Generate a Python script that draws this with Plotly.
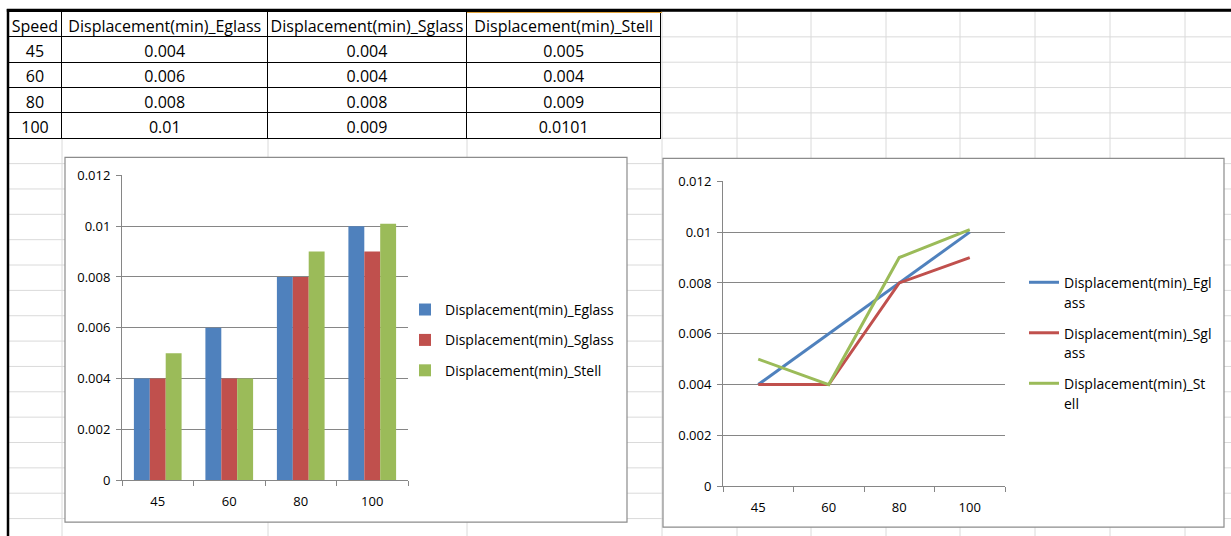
import plotly.graph_objects as go

# ---- data -------------------------------------------------------------
speeds = ["45", "60", "80", "100"]
eglass = [0.004, 0.006, 0.008, 0.01]
sglass = [0.004, 0.004, 0.008, 0.009]
stell = [0.005, 0.004, 0.009, 0.0101]
header = ["Speed", "Displacement(min)_Eglass", "Displacement(min)_Sglass",
          "Displacement(min)_Stell"]
names = ["Displacement(min)_Eglass", "Displacement(min)_Sglass",
         "Displacement(min)_Stell"]
# the narrow legend of the line chart wraps the series names
wrapped = [("Displacement(min)_Egl", "ass"), ("Displacement(min)_Sgl", "ass"),
           ("Displacement(min)_St", "ell")]

# ---- page geometry ----------------------------------------------------
# positions below are page pixels; the drawing area starts 8px down the page
# and is 16px shorter than the figure height
W, H = 1231, 544
TOP, USABLE_H = 8, H - 16
BLUE, RED, GREEN = "#4F81BD", "#C0504D", "#9BBB59"
AXIS_GREY = "#868686"
SHEET_GREY = "#DADADA"
FONT = "Open Sans"


def fx(px):
    return px / W


def fy(py):
    return 1 - (py - TOP) / USABLE_H


fig = go.Figure()

# ---- spreadsheet table --------------------------------------------------
fig.add_trace(go.Table(
    domain=dict(x=[fx(8), fx(662)], y=[fy(146), fy(11)]),
    columnwidth=[54, 206, 199, 195],
    header=dict(values=header, height=25, align="center",
                line=dict(color="black", width=1), fill=dict(color="white"),
                font=dict(family=FONT, size=16, color="black")),
    cells=dict(values=[speeds, [str(v) for v in eglass],
                       [str(v) for v in sglass], [str(v) for v in stell]],
               height=25.3, align="center",
               line=dict(color="black", width=1), fill=dict(color="white"),
               font=dict(family=FONT, size=16, color="black")),
))

# ---- clustered column chart -------------------------------------------
colors = [BLUE, RED, GREEN]
values = [eglass, sglass, stell]
for i in range(3):
    fig.add_trace(go.Bar(x=speeds, y=values[i], name=names[i],
                         marker_color=colors[i], marker_line_width=0,
                         xaxis="x", yaxis="y", legend="legend",
                         legendgroup=f"b{i}"))

# ---- line chart -------------------------------------------------------
for i in range(3):
    label = (f"<span style='font-size:14px'>{wrapped[i][0]}</span><br>"
             f"<span style='font-size:14px'>{wrapped[i][1]}</span>")
    fig.add_trace(go.Scatter(x=speeds, y=values[i], name=label, mode="lines",
                             line=dict(color=colors[i], width=3),
                             xaxis="x2", yaxis="y2", legend="legend2",
                             legendgroup=f"l{i}"))

# ---- sheet gridlines, chart frames and borders -------------------------
shapes = []
col_edges = [62, 268, 467, 662, 737, 811, 886, 960, 1035, 1110, 1185]
for x in col_edges:
    shapes.append(dict(type="line", xref="paper", yref="paper",
                       x0=fx(x), x1=fx(x), y0=fy(8), y1=fy(540),
                       line=dict(color=SHEET_GREY, width=1), layer="below"))
for k in range(22):
    y = 10.5 + 25.45 * k
    if y > 536:
        break
    shapes.append(dict(type="line", xref="paper", yref="paper",
                       x0=fx(8), x1=fx(W), y0=fy(y), y1=fy(y),
                       line=dict(color=SHEET_GREY, width=1), layer="below"))
# chart areas
for (x0, y0, x1, y1) in [(65, 157, 627, 523), (663, 158, 1224, 528)]:
    shapes.append(dict(type="rect", xref="paper", yref="paper",
                       x0=fx(x0), x1=fx(x1), y0=fy(y1), y1=fy(y0),
                       fillcolor="white", line=dict(color="#8C8C8C", width=1.2),
                       layer="below"))
# thick page border
shapes.append(dict(type="line", xref="paper", yref="paper", x0=fx(6.8), x1=fx(W),
                   y0=fy(9.3), y1=fy(9.3), line=dict(color="black", width=3),
                   layer="above"))
shapes.append(dict(type="line", xref="paper", yref="paper", x0=fx(8), x1=fx(8),
                   y0=fy(8), y1=fy(540), line=dict(color="black", width=2.5),
                   layer="above"))
# active header cell outline
shapes.append(dict(type="line", xref="paper", yref="paper", x0=fx(467), x1=fx(662),
                   y0=fy(11.5), y1=fy(11.5), line=dict(color="#E3A33A", width=1),
                   layer="above"))

tickfont = dict(family=FONT, size=13, color="black")
xcommon = dict(type="category", range=[-0.5, 3.5], tickson="boundaries",
               ticks="outside", ticklen=5, tickcolor=AXIS_GREY, showline=True,
               linecolor=AXIS_GREY, linewidth=1, showgrid=False, zeroline=False,
               tickfont=tickfont, ticklabelstandoff=9, fixedrange=True)
ycommon = dict(range=[0, 0.012], dtick=0.002, tick0=0, ticks="outside", ticklen=5,
               tickcolor=AXIS_GREY, showline=True, linecolor=AXIS_GREY, linewidth=1,
               showgrid=True, gridcolor=AXIS_GREY, gridwidth=1, zeroline=False,
               tickfont=tickfont, ticklabelstandoff=3, fixedrange=True)

fig.update_layout(
    width=W, height=H, margin=dict(l=0, r=0, t=0, b=0),
    paper_bgcolor="white", plot_bgcolor="rgba(0,0,0,0)",
    barmode="group", bargap=0.333, bargroupgap=0,
    xaxis=dict(domain=[fx(122), fx(408)], anchor="y", **xcommon),
    yaxis=dict(domain=[fy(481), fy(175)], anchor="x", **ycommon),
    xaxis2=dict(domain=[fx(723), fx(1005)], anchor="y2", **xcommon),
    yaxis2=dict(domain=[fy(487), fy(181)], anchor="x2", **ycommon),
    legend=dict(x=fx(405), y=fy(294), xanchor="left", yanchor="top",
                font=dict(family=FONT, size=14, color="black"),
                bgcolor="rgba(0,0,0,0)", tracegroupgap=9.2,
                traceorder="grouped"),
    legend2=dict(x=fx(1024), y=fy(266), xanchor="left", yanchor="top",
                 font=dict(family=FONT, size=15, color="black"),
                 bgcolor="rgba(0,0,0,0)", tracegroupgap=8.5,
                 valign="top", traceorder="grouped"),
    shapes=shapes,
    showlegend=True,
)

fig.write_html("out.html")
